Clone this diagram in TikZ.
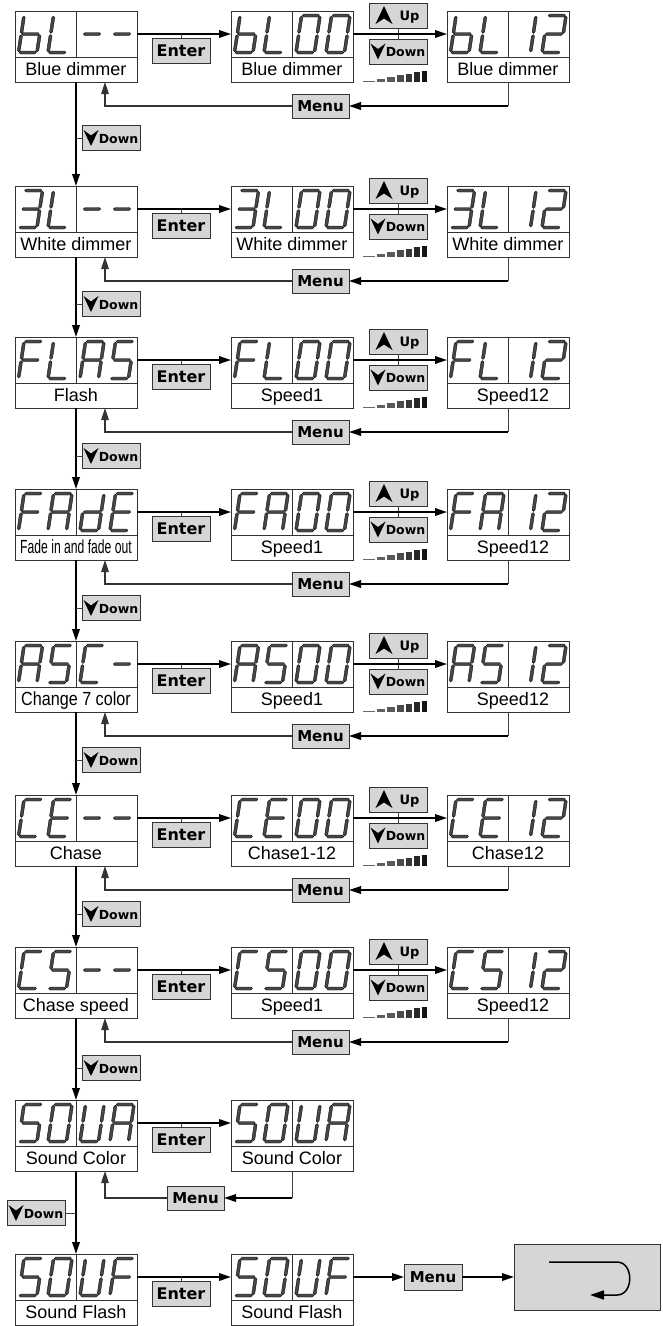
\documentclass[tikz,border=0pt]{standalone}
\usepackage{fontspec}
\setmainfont{Liberation Sans}
\newfontfamily\narrowfont[FakeStretch=0.64]{Liberation Sans}
\newfontfamily\semifont[FakeStretch=0.85]{Liberation Sans}
\newfontfamily\btnfont{DejaVu Sans}
\usetikzlibrary{arrows.meta,calc}

\tikzset{
  segf/.style={fill=black!72, draw=black, line width=0.35pt},
  disp/.style={draw=black!80, line width=0.9pt, minimum width=122pt, minimum height=46pt, inner sep=0pt, outer sep=0pt},
  lab/.style={draw=black!80, line width=0.9pt, minimum width=122pt, minimum height=25pt, inner sep=0pt, outer sep=0pt, text height=13pt, text depth=1pt, font=\fontsize{18}{20}\selectfont},
  btn/.style={draw=black!80, fill=black!16, line width=0.9pt, inner sep=0pt, outer sep=0pt},
  bigbtn/.style={btn, minimum width=58pt, minimum height=25pt, text height=11pt, text depth=0pt, font=\btnfont\bfseries\fontsize{15}{17}\selectfont},
  enterbtn/.style={bigbtn, font=\btnfont\bfseries\fontsize{16}{18}\selectfont},
  smallbtn/.style={btn, minimum width=58pt, minimum height=25pt},
  btntext/.style={inner sep=0pt, text height=9pt, text depth=0pt, font=\btnfont\bfseries\fontsize{12.5}{14}\selectfont},
  flow/.style={line width=1.8pt, -{Triangle[length=12pt,width=7.5pt]}},
  backflow/.style={line width=1.1pt, draw=black!80, -{Triangle[length=12pt,width=7.5pt]}},
  stub/.style={line width=1pt, draw=black!75},
  divider/.style={line width=0.9pt, draw=black!80},
}

\newcommand\segH[3]{\path[segf] ({#1+0.6},{#3}) -- ({#1+2.1},{#3+1.5}) -- ({#2-2.1},{#3+1.5}) -- ({#2-0.6},{#3}) -- ({#2-2.1},{#3-1.5}) -- ({#1+2.1},{#3-1.5}) -- cycle;}
\newcommand\segV[3]{\path[segf] ({#1},{#2+0.6}) -- ({#1+1.5},{#2+2.1}) -- ({#1+1.5},{#3-2.1}) -- ({#1},{#3-0.6}) -- ({#1-1.5},{#3-2.1}) -- ({#1-1.5},{#2+2.1}) -- cycle;}

\pgfkeys{/seven/.cd,
  a/.code={\segH{0}{18.5}{37}},
  b/.code={\segV{18.5}{18.5}{37}},
  c/.code={\segV{18.5}{0}{18.5}},
  d/.code={\segH{0}{18.5}{0}},
  e/.code={\segV{0}{0}{18.5}},
  f/.code={\segV{0}{18.5}{37}},
  g/.code={\segH{0}{18.5}{18.5}},
  none/.code={},
  chb/.style={c,d,e,f,g},
  chL/.style={d,e,f},
  chdash/.style={g},
  ch0/.style={a,b,c,d,e,f},
  ch1/.style={b,c},
  ch2/.style={a,b,g,e,d},
  ch3/.style={a,b,c,d,g},
  chF/.style={a,e,f,g},
  chA/.style={a,b,c,e,f,g},
  chS/.style={a,f,g,c,d},
  chd/.style={b,c,d,e,g},
  chE/.style={a,d,e,f,g},
  chC/.style={a,d,e,f},
  chU/.style={b,c,d,e,f},
}

\newcommand\sdig[3]{\begin{scope}[shift={(#1,#2)},x=1pt,y=1pt,xslant=0.15]\pgfkeys{/seven/.cd,#3}\end{scope}}

\newcommand\dbox[8]{%
  \node[disp, anchor=north west] (#1) at (#2,#3) {};
  \node[lab, anchor=north west] (#1l) at (#2,{#3+46}) {#8};
  \draw[divider] (#1.north) -- (#1.south);
  \sdig{#2+3.5}{#3+41.5}{#4}\sdig{#2+33}{#3+41.5}{#5}\sdig{#2+65}{#3+41.5}{#6}\sdig{#2+95}{#3+41.5}{#7}}

\newcommand\upbtn[3]{%
  \node[smallbtn] (#1) at (#2,#3) {};
  \node[btntext, font=\btnfont\bfseries\fontsize{13}{15}\selectfont] (#1t) at ({#2+11.5},{#3}) {Up};
  \fill ([shift={(-14,-9.5)}]#1.center) -- ([shift={(-5.5,8.5)}]#1.center) -- ([shift={(-14,3)}]#1.center) -- ([shift={(-22.5,8.5)}]#1.center) -- cycle;}

\newcommand\downbtn[3]{%
  \node[smallbtn] (#1) at (#2,#3) {};
  \node[btntext] (#1t) at ({#2+7.5},{#3+0.5}) {Down};
  \fill ([shift={(-20,8)}]#1.center) -- ([shift={(-27.5,-8)}]#1.center) -- ([shift={(-20,-2.5)}]#1.center) -- ([shift={(-12.5,-8)}]#1.center) -- cycle;}

\newcommand\levelbars[1]{\foreach \xa/\xb/\hh/\cc in {363/375/1.5/60,377/385/3/62,387/395/5/65,397/404/7/70,406/412/8.5/78,414/420/10/85,421.5/427/11.5/92}{\fill[black!\cc] (\xa,#1) rectangle (\xb,{#1-\hh});}}

\newcommand\fullrow[9]{%
  \dbox{a#1}{15}{#2}{#3}{#4}{#5}{#6}{#7}
  \dbox{b#1}{231}{#2}{#3}{#4}{ch0}{ch0}{#8}
  \dbox{c#1}{447}{#2}{#3}{#4}{ch1}{ch2}{#9}
  \node[enterbtn] (e#1) at (181,{#2+39.5}) {Enter};
  \draw[flow] (a#1.east) -- (b#1.west);
  \draw[stub] (e#1.north) -- (e#1.north |- a#1.east);
  \upbtn{u#1}{398}{#2+4.5}
  \downbtn{w#1}{398}{#2+40.5}
  \draw[stub] (u#1.south) -- (w#1.north);
  \draw[flow] (b#1.east) -- (c#1.west);
  \levelbars{#2+71}
  \node[bigbtn, minimum width=57pt, minimum height=24pt] (m#1) at (320.5,{#2+95}) {Menu};
  \draw[stub] (c#1l.south) -- (c#1l.south |- m#1.east);
  \draw[flow] (c#1l.south |- m#1.east) -- (m#1.east);
  \draw[backflow] (m#1.west) -| ([xshift=29pt]a#1l.south);
}

\newcommand\vdown[4]{%
  \draw[flow] (a#1l.south) -- (a#2.north);
  \downbtn{#3}{111}{#4}
  \draw[stub] (#3.west) -- (#3.west -| a#1l.south);}

\begin{document}
\begin{tikzpicture}[x=1pt,y=-1pt]
\useasboundingbox (0,0) rectangle (662,1326);
\fill[white] (0,0) rectangle (662,1326);

\fullrow{1}{11}{chb}{chL}{chdash}{chdash}{Blue dimmer}{Blue dimmer}{Blue dimmer}
\fullrow{2}{186}{ch3}{chL}{chdash}{chdash}{White dimmer}{White dimmer}{White dimmer}
\fullrow{3}{337}{chF}{chL}{chA}{chS}{Flash}{Speed1}{\hspace*{10pt}Speed12}
\fullrow{4}{489}{chF}{chA}{chd}{chE}{{\narrowfont\fontsize{19}{20}\selectfont Fade in and fade out}}{Speed1}{\hspace*{10pt}Speed12}
\fullrow{5}{641}{chA}{chS}{chC}{chdash}{{\semifont\fontsize{19}{20}\selectfont Change 7 color}}{Speed1}{\hspace*{10pt}Speed12}
\fullrow{6}{795}{chC}{chE}{chdash}{chdash}{Chase}{Chase1-12}{Chase12}
\fullrow{7}{947}{chC}{chS}{chdash}{chdash}{Chase speed}{Speed1}{\hspace*{10pt}Speed12}

% row 8
\dbox{a8}{15}{1100}{chS}{ch0}{chU}{chA}{Sound Color}
\dbox{b8}{231}{1100}{chS}{ch0}{chU}{chA}{Sound Color}
\node[enterbtn] (e8) at (181,1139.5) {Enter};
\draw[flow] (a8.east) -- (b8.west);
\draw[stub] (e8.north) -- (e8.north |- a8.east);
\node[bigbtn, minimum width=57pt, minimum height=24pt] (m8) at (195.5,1198) {Menu};
\draw[stub] (b8l.south) -- (b8l.south |- m8.east);
\draw[flow] (b8l.south |- m8.east) -- (m8.east);
\draw[backflow] (m8.west) -| ([xshift=29pt]a8l.south);

% row 9
\dbox{a9}{15}{1254}{chS}{ch0}{chU}{chF}{Sound Flash}
\dbox{b9}{231}{1254}{chS}{ch0}{chU}{chF}{Sound Flash}
\node[enterbtn] (e9) at (181,1293.5) {Enter};
\draw[flow] (a9.east) -- (b9.west);
\draw[stub] (e9.north) -- (e9.north |- a9.east);
\node[bigbtn, minimum width=58pt, minimum height=26pt] (m9) at (433,1277) {Menu};
\draw[flow] (b9.east) -- (m9.west);
\node[btn, minimum width=146pt, minimum height=66pt] (ret) at (587,1277) {};
\draw[flow] (m9.east) -- (ret.west);
\coordinate (rs) at ([shift={(-38,-15)}]ret.center);
\draw[line width=1.5pt, -{Triangle[length=14pt,width=9pt]}] (rs) -- ++(68,0) .. controls +(17,0) and +(17,0) .. ++(0,33) -- ++(-27,0);

% vertical Down links
\vdown{1}{2}{v1}{138}
\vdown{2}{3}{v2}{304}
\vdown{3}{4}{v3}{456}
\vdown{4}{5}{v4}{608}
\vdown{5}{6}{v5}{760}
\vdown{6}{7}{v6}{914}
\vdown{7}{8}{v7}{1068}
\draw[flow] (a8l.south) -- (a9.north);
\downbtn{v8}{36}{1213}
\draw[stub] (v8.east) -- (v8.east -| a8l.south);
\end{tikzpicture}
\end{document}
